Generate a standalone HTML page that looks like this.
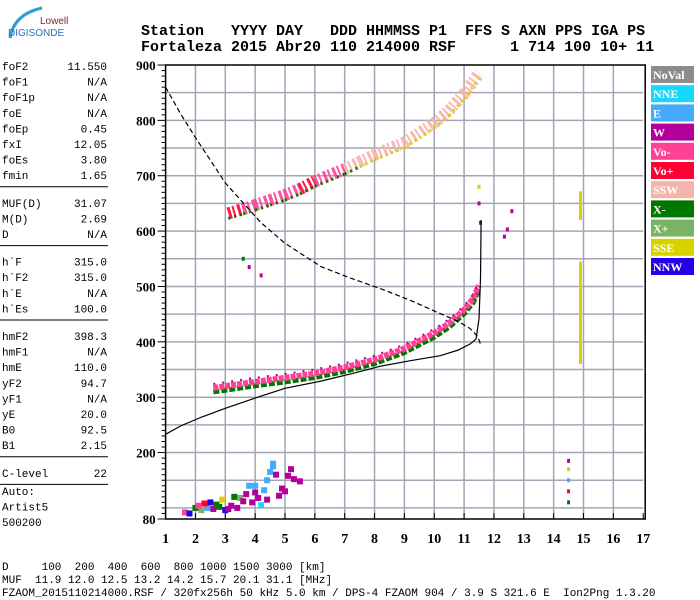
<!DOCTYPE html>
<html><head><meta charset="utf-8"><style>
body{margin:0;background:#fff;width:700px;height:600px;overflow:hidden;position:relative}
svg{position:absolute;left:0;top:0}
</style></head><body>
<svg id="chart" width="700" height="600" viewBox="0 0 700 600" xmlns="http://www.w3.org/2000/svg">
 <g>
  <path d="M10,38 Q14,14 42,8" stroke="#2aa0d8" stroke-width="3" fill="none"/>
  <text x="40" y="24" font-family="Liberation Sans,sans-serif" font-size="10" fill="#7a1e3a">Lowell</text>
  <text x="8" y="36" font-family="Liberation Sans,sans-serif" font-size="10" fill="#2a6fc0">DIGISONDE</text>
 </g>
 <g font-family="Liberation Mono,monospace" font-weight="bold" font-size="15">
  <text x="141" y="35" xml:space="preserve">Station   YYYY DAY   DDD HHMMSS P1  FFS S AXN PPS IGA PS</text>
  <text x="141" y="51" xml:space="preserve">Fortaleza 2015 Abr20 110 214000 RSF      1 714 100 10+ 11</text>
 </g>
 <g id="params" font-family="Liberation Mono,monospace" font-size="11"></g>
 <g id="plot"></g>
 <g id="legend"></g>
 <g font-family="Liberation Mono,monospace" font-size="11">
  <text x="2" y="570" xml:space="preserve">D     100  200  400  600  800 1000 1500 3000 [km]</text>
  <text x="2" y="583" xml:space="preserve">MUF  11.9 12.0 12.5 13.2 14.2 15.7 20.1 31.1 [MHz]</text>
  <text x="2" y="596" xml:space="preserve">FZAOM_2015110214000.RSF / 320fx256h 50 kHz 5.0 km / DPS-4 FZAOM 904 / 3.9 S 321.6 E  Ion2Png 1.3.20</text>
 </g>
</svg>
<script>
const NS='http://www.w3.org/2000/svg';
// ---- data ----
const freqTicks=[1,2,3,4,5,6,7,8,9,10,11,12,13,14,15,16,17];
const heightTicks=[80,200,300,400,500,600,700,800,900];
const gridHeights=[100,150,200,250,300,350,400,450,500,550,600,650,700,750,800,850];
const f2TraceF=[2.6,3.0,3.5,4.0,5.0,6.0,7.0,8.0,9.0,10.0,10.5,11.0,11.3,11.5];
const f2TraceH=[315,318,322,326,333,341,352,366,386,414,432,456,476,500];
const hop2F=[3.1,3.6,4.0,4.5,5.0,5.5,6.0,7.0,7.5,8.0,9.0,10.0,10.5,11.0,11.5];
const hop2H=[632,640,647,656,665,676,690,712,725,738,760,795,818,848,885];
const hop2Col=[5,4,4,4,4,5,4,6,6,6,6,6,6,6,6];
const esF=[1.65,1.8,2.0,2.2,2.4,2.6,2.8,3.0,3.2,3.4,3.5,3.7,3.9,4.0,4.1,4.3,4.4,4.5,4.6,4.7,4.8,5.0,5.1,5.3,5.5,2.3,2.9,3.3,4.2,4.9,2.1,2.5,3.1,3.6,4.0,4.4,3.8,4.6,5.2,2.7];
const esH=[92,90,100,96,100,98,102,96,104,100,118,125,110,140,118,132,150,165,175,160,122,130,158,152,148,108,115,120,105,135,104,110,98,112,128,115,140,180,170,106];
const esCol=[4,10,7,8,2,3,7,10,3,3,8,3,3,2,3,2,2,2,2,3,3,3,3,3,3,5,9,7,1,3,4,10,3,3,3,3,2,2,3,7];
const modelDashF=[1.0,1.5,2.0,3.0,4.2,5.0,6.2,7.2,8.2,9.2,10.2,10.8,11.2,11.45,11.55];
const modelDashH=[860,812,769,687,615,578,536,515,496,475,451,437,424,410,396];
const modelSolidF=[1.0,1.5,2.2,3.0,4.2,5.0,6.2,7.2,8.2,9.2,10.2,10.8,11.2,11.4,11.5,11.55,11.57];
const modelSolidH=[233,248,264,280,302,316,329,342,356,366,375,385,396,405,442,515,620];
const sseF=[14.9,14.9];
const sseH0=[360,620];
const sseH1=[545,672];
const strayF=[12.35,12.45,12.6,11.5,11.5,11.55,14.5,14.5,14.5,14.5,14.5,3.6,3.8,4.2];
const strayH=[590,603,636,680,650,615,185,170,150,130,110,550,535,520];
const strayCol=[3,3,3,9,3,3,3,9,2,5,7,7,3,3];
const legendNames=['NoVal','NNE','E','W','Vo-','Vo+','SSW','X-','X+','SSE','NNW'];
const legendColors=['#8c8c8c','#19d7fa','#46aaff','#b4009b','#ff4196','#ff0033','#f5b4aa','#007800','#78b464','#d7d200','#2800e6'];
const paramNames=[['foF2','foF1','foF1p','foE','foEp','fxI','foEs','fmin'],['MUF(D)','M(D)','D'],["h`F","h`F2","h`E","h`Es"],['hmF2','hmF1','hmE','yF2','yF1','yE','B0','B1'],['C-level']];
const paramValues=[['11.550','N/A','N/A','N/A','0.45','12.05','3.80','1.65'],['31.07','2.69','N/A'],['315.0','315.0','N/A','100.0'],['398.3','N/A','110.0','94.7','N/A','20.0','92.5','2.15'],['22']];
// ---- axes ----
const X0=165.6,XS=29.85,Y0=519,YS=454/820;
const xs=f=>X0+(f-1)*XS;
const ys=h=>Y0-(h-80)*YS;
function mk(tag,attrs,parent){const e=document.createElementNS(NS,tag);for(const k in attrs)e.setAttribute(k,attrs[k]);parent.appendChild(e);return e;}
const plot=document.getElementById('plot');
gridHeights.forEach(h=>{const l=mk('line',{x1:xs(1),x2:xs(17),y1:ys(h),y2:ys(h),stroke:'#a4a4b4','stroke-width':1.5},plot);

});
freqTicks.slice(1,-1).forEach(f=>{const l=mk('line',{x1:xs(f),x2:xs(f),y1:ys(900),y2:ys(80),stroke:'#a4a4b4','stroke-width':1.5},plot);

});
const fr=mk('rect',{x:xs(1),y:ys(900),width:xs(17)-xs(1)+2,height:ys(80)-ys(900),fill:'none',stroke:'#000','stroke-width':1.5},plot);


for(let h=80;h<=900;h+=10){const major=heightTicks.includes(h);mk('line',{x1:xs(1)-(major?8:4),x2:xs(1),y1:ys(h),y2:ys(h),stroke:'#000','stroke-width':1},plot);}
heightTicks.forEach(h=>{const t=mk('text',{x:xs(1)-10,y:ys(h)+5,'text-anchor':'end','font-family':'Liberation Serif,serif','font-weight':'bold','font-size':13},plot);t.textContent=h;

});
freqTicks.forEach(f=>{mk('line',{x1:xs(f),x2:xs(f),y1:ys(80),y2:ys(80)-6,stroke:'#000'},plot);
const t=mk('text',{x:xs(f),y:543,'text-anchor':'middle','font-family':'Liberation Serif,serif','font-weight':'bold','font-size':14},plot);t.textContent=f;

});
function pts(F,H,dy){return F.map((f,i)=>xs(f)+','+(ys(H[i])+(dy||0))).join(' ');}
const g1=mk('polyline',{points:pts(f2TraceF,f2TraceH,3),fill:'none',stroke:legendColors[7],'stroke-width':5,'stroke-dasharray':'6 2'},plot);


const g2=mk('polyline',{points:pts(f2TraceF,f2TraceH,-1),fill:'none',stroke:legendColors[4],'stroke-width':6,'stroke-dasharray':'5 1'},plot);


const g3=mk('polyline',{points:pts(f2TraceF,f2TraceH,-5),fill:'none',stroke:legendColors[3],'stroke-width':2,'stroke-dasharray':'2 7'},plot);


for(let i=0;i<hop2F.length-1;i++){const s=mk('line',{x1:xs(hop2F[i]),y1:ys(hop2H[i]),x2:xs(hop2F[i+1]),y2:ys(hop2H[i+1]),stroke:legendColors[hop2Col[i]],'stroke-width':12,'stroke-dasharray':'3 2 2 3','opacity':0.9},plot);


const s2=mk('line',{x1:xs(hop2F[i]),y1:ys(hop2H[i])+5,x2:xs(hop2F[i+1]),y2:ys(hop2H[i+1])+5,stroke:legendColors[i<8?7:9],'stroke-width':3,'stroke-dasharray':'2 4'},plot);

}
esF.forEach((f,i)=>{const r=mk('rect',{x:xs(f)-3,y:ys(esH[i])-3,width:6,height:6,fill:legendColors[esCol[i]]},plot);

});
strayF.forEach((f,i)=>{const r=mk('rect',{x:xs(f)-1.5,y:ys(strayH[i])-2,width:3,height:4,fill:legendColors[strayCol[i]]},plot);

});
sseF.forEach((f,i)=>{const r=mk('rect',{x:xs(f)-1.5,y:ys(sseH1[i]),width:3,height:ys(sseH0[i])-ys(sseH1[i]),fill:legendColors[9]},plot);

});
const md=mk('polyline',{points:pts(modelDashF,modelDashH),fill:'none',stroke:'#000','stroke-width':1.2,'stroke-dasharray':'5 3'},plot);


const ms=mk('polyline',{points:pts(modelSolidF,modelSolidH),fill:'none',stroke:'#000','stroke-width':1.2},plot);


const lg=document.getElementById('legend');
legendNames.forEach((n,i)=>{const y=66+i*19.2;
const r=mk('rect',{x:651,y:y,width:43,height:17,fill:legendColors[i]},lg);


const t=mk('text',{x:653,y:y+13,fill:'#fff','font-family':'Liberation Serif,serif','font-weight':'bold','font-size':12},lg);t.textContent=n;});
const pg=document.getElementById('params');
let y=70;
paramNames.forEach((grp,gi)=>{grp.forEach((n,i)=>{
const a=mk('text',{x:2,y:y},pg);a.textContent=n;


const b=mk('text',{x:107,y:y,'text-anchor':'end'},pg);b.textContent=paramValues[gi][i];


y+=15.6;});
mk('line',{x1:0,x2:108,y1:y-8,y2:y-8,stroke:'#000','stroke-width':1},pg);y+=12;});
['Auto:','Artist5','500200'].forEach((s,i)=>{const t=mk('text',{x:2,y:495+i*15.6},pg);t.textContent=s;});
</script>
</body></html>
